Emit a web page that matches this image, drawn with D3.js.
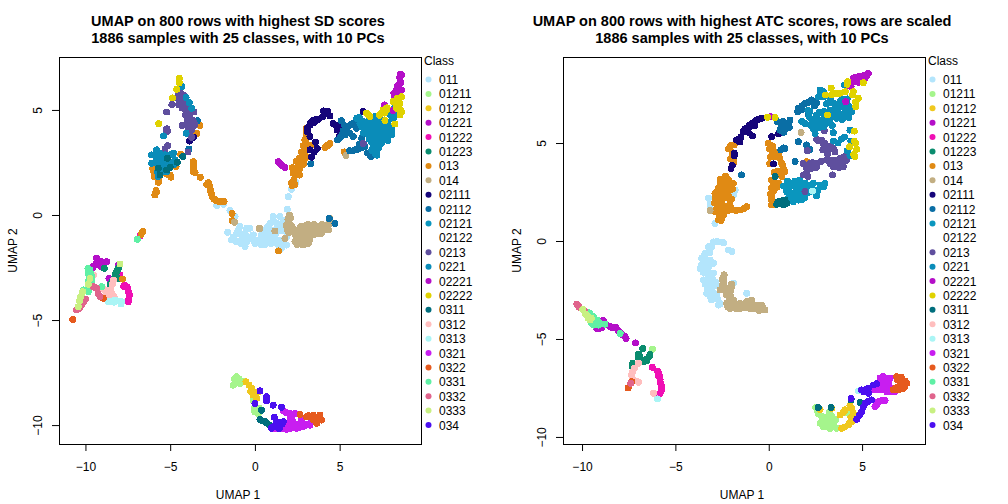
<!DOCTYPE html>
<html>
<head>
<meta charset="utf-8">
<script src="https://cdnjs.cloudflare.com/ajax/libs/d3/7.8.5/d3.min.js"></script>
<style>
  html, body { margin: 0; padding: 0; background: #fff; }
  text { font-family: "Liberation Sans", Arial, sans-serif; fill: #000; }
  .title { font-size: 14.5px; font-weight: bold; text-anchor: middle; }
  .axis-label, .legend-text, .axis text { font-size: 12px; }
  .axis path { display: none; }
  .axis line { stroke: #000; }
  .frame { fill: none; stroke: #000; }
  .dots circle { shape-rendering: crispEdges; }
</style>
</head>
<body>
<div id="chart"></div>
<script>
// Class names and colours, in legend order
var classNames = ['011', '01211', '01212', '01221', '01222', '01223', '013', '014', '02111', '02112', '02121', '02122',
  '0213', '0221', '02221', '02222', '0311', '0312', '0313', '0321', '0322', '0331', '0332', '0333', '034'];
var classColors = ['#B3E5FC', '#A5F58C', '#F0C81E', '#B40FC8', '#F00FB4', '#0A8C6E', '#E08A14', '#C2AE82', '#16057A', '#0A6EA5', '#0A96BE', '#FFFFFF',
  '#5F4F9E', '#0A8CB9', '#B40FC8', '#E0D200', '#006E7D', '#FFBEBE', '#AAF5F5', '#C81EF0', '#E65A1E', '#5FF0A5', '#E0648C', '#C8F082', '#4B0FF0'];

// Left panel: UMAP coordinates per class
var sd011 = [[-2.25,.45],[-1.86,.51],[-1.47,.21],[-1.17,-.08],[-1.6,-.82],[-.88,-.55],[-.48,-.63],[-1.37,-1.19],[-1.07,-1.27],[-.78,-1.19],[-.48,-1.27],[-.58,-1.51],[-.88,-.87],[-.58,-.87],[-1.07,-.87],[.1,-1.27],[.2,-1.19],
  [2.42,1.56],[2.16,1.22],[1.97,.87],[1.91,.27],[1.08,-.08],[1.47,-.08],[.89,-.4],[1.28,-.4],[1.67,-.24],[.59,-.71],[.98,-.71],[1.47,-.71],[.2,-1.19],[.69,-1.19],[1.28,-1.19],[1.87,-1.03],[1.87,-1.43],[1.57,-1.59],[-.1,-1.19],[-.3,-.63],[.4,-.95],[.85,-.95],[1.25,-.85],[1.65,-.75],[1.05,-1.05],[1.55,-1.2],
  [.75,-.55],[1.1,-.3],[.45,-.95],[.7,-.95],[.35,-1.4],[.6,-1.4],[.95,-1.35],[1.15,-1],[1.5,-.45],[1.3,-.6],[-.7,-1],[-1.25,-1.05],[-.95,-.7],[-.6,-1.4],[-.85,-1.35],[-1.2,-1.2],[1.6,-1.35],[1.35,-1.4],[-.3,-1.05],[0,-1.35],[-.1,-.95],[.5,-1.2]];
var sd01211 = [[-1.08,-7.86],[-1.28,-8.1],[-.885,-8.02],[-1.08,-7.7],[-.7,-7.9],[-.1,-8.81],[0,-9.37],[.2,-9.45],[-.05,-9.2],[.25,-9.2],[-1.2,-7.8],[-.95,-7.8],[-.9,-7.95],[-1.15,-8]];
var sd01212 = [[-.53,-7.94],[-.2,-8.25],[0,-8.49],[-.1,-8.57],[.2,-8.41],[.1,-8.73],[-.35,-8.1],[-.25,-8.4],[-.15,-8.45]];
var sd01221 = [[-9.04,-2.22],[-9.34,-2.3],[-9.53,-2.43],[-8.61,-3.02],[-8.06,-2.38],[-8.75,-2.22],[-9.34,-2.06],[-9.1,-2.45],[1.47,2.46],[1.77,2.27],[1.38,2.54],[1.6,2.36],[-9.2,-2.2],[-8.9,-2.25],[-9.4,-2.35],[-9.6,-2.55]];
var sd01222 = [[-7.57,-3.41],[-7.47,-3.65],[-7.43,-3.97],[-7.47,-4.13],[-7.96,-2.86],[-7.75,-3.4],[-6.78,-1],[-7.5,-3.5],[-7.4,-3.8],[-7.45,-4.05],[-7.65,-3.35]];
var sd01223 = [[-8.88,-2.54],[-8.06,-2.54],[-8.25,-2.86],[-8.06,-3.02],[-8.55,-3.33],[-8.35,-3.1],[-8.16,-2.7],[-8.2,-2.8],[-8.3,-3],[-8.45,-3.2],[-8.1,-2.6]];
var sd013 = [[-6.03,2.22],[-5.95,1.98],[-5.95,1.83],[-5.7,1.56],[-5,1.9],[-5.2,1.95],[-5.83,1.16],[-5.9,.95],[-4.38,2.89],[-3.93,3.06],[-4.65,2.3],[-3.63,2.54],[-3.63,2.3],[-3.63,2.06],[-3.53,2.03],[-3.22,1.79],[-2.75,1.54],[-2.65,1.35],[-2.6,1.11],[-2.53,.87],[-2.41,.75],[-2.06,.63],[-1.82,.65],[-1.35,.08],[-1.33,-.27],[-6.62,-.79],[-6.72,-.92],[-3.24,4.25],[-3.42,3.89],[-5.5,2.81],
  [3.05,4.13],[3.05,3.81],[2.95,3.57],[2.85,3.29],[3.2,3.33],[3.44,3.33],[2.75,2.78],[3.05,2.78],[2.66,2.54],[2.36,2.22],[2.66,2.22],[2.36,1.9],[2.62,1.9],[2.16,1.54],[4.13,3.22],[4.43,3.41],[5.27,3],[1.38,-1.71],[2.9,2.6],[2.5,2.05],[-7.8,-3.05],[-2.85,1.45],[2.9,3.05],[4.3,3.3],
  [3.05,3.95],[3.05,3.65],[3,3.4],[2.9,2.95],[2.75,2.55],[2.45,2.55],[2.85,2.4],[2.5,2.2],[2.45,1.95],[2.3,1.7],[2.35,1.45],[2.2,1.4],[4.25,3.3],[-3.6,2.4],[-3.6,2.2],[-2.7,1.45],[-2.62,1.2],[-2.55,1],[-2.3,.7],[-2.15,.65],[-5.85,1.05],[-6,2.1],[-5.95,1.9],[-5.1,1.92],[-5.8,1.08],[-5.7,1.7],[-4.95,1.8],[2.75,3],[2.6,2.7],[2.2,2.25],[2.25,2]];
var sd014 = [[-1.2,-.35],[.24,-.63],[2.03,0],[1.97,-.32],[.3,-.63],[1.18,-.76],[1.77,-1.11],[2.66,-.71],[3.05,-.55],[3.44,-.55],[3.84,-.55],[4.23,-.48],[2.66,-1.03],[3.05,-.95],[3.44,-.95],[3.93,-.87],[4.33,-.71],[2.75,-1.4],[3.15,-1.35],[2.36,-1.27],[4.43,-.16],[5.37,2.83],[1.93,-.71],[2.36,-.71],[2.8,-.75],[3.2,-.75],[3.65,-.7],[4.1,-.7],[2.85,-1.15],[3.25,-1.15],[2.55,-.95],[2.15,-.5],
  [2.4,-.95],[2.6,-1.2],[2.95,-.6],[3.25,-.6],[3.55,-.75],[3.85,-.75],[4.1,-.55],[2.95,-.95],[3.05,-1.15],[3.35,-.85],[3.75,-.9],[2.9,-1.4],[2.5,-1.4],[2.6,-.85],[1.95,-.2],[2.1,-.15],[1.85,-.5],[2,-.85],[3,-.5],[3.6,-.55],[4.35,-.45],[4.4,-.3],[3.15,-.45],[3.5,-.45],[2.7,-.55],[3.95,-.45],[2.95,-1.3]];
var sd02111 = [[-3.87,3.52],[-3.63,3.7],[4.19,4.84],[3.99,4.68],[4.43,4.71],[3.44,4.52],[3.64,4.56],[3.25,4.29],[3.25,3.73],[3.58,3.46],[3.68,3.17],[3.25,3.1],[3.34,2.75],[4.62,4.36],[4.92,4.21],[5.21,4.02],[4.98,3.76],[6.39,4.92],[3.75,4.55],[4.1,4.78],[3.5,4.4],[3.3,4.4],[5.05,4],[5.1,4.15],[4.78,4.28],[3.1,3.95],[3.1,4.15],[3.5,3],[4.3,4.95],[4.05,4.95],[4.85,4.05]];
var sd02112 = [[-3.4,4.49],[-3.8,4],[-3.9,3.14],[5.1,4.49],[4.86,3.57],[5.31,3.81],[5.51,4.21],[5.8,4.36],[6,4.13],[5.8,3.73],[5.6,3.06],[6,3.1],[6.3,3.65],[6.49,3.25],[6.83,2.78],[4.39,-.17],[3.3,2.43],[4.72,-.4],[5.2,4],[5.4,4],[5.65,4.3],[5.9,4.25],[5.75,3.05],[5.9,3.1],[6.1,3.15],[6.3,3.2],[5.6,3.9],[5.05,3.7],[6.4,3.4],[5.3,4.25],[5.15,3.85],[6.15,3.35],[6.65,2.95]];
var sd02121 = [];
var sd02122 = [];
var sd0213 = [[-4.5,5.7],[-4.2,5.7],[-4.5,5.5],[-4.2,5.5],[-4.5,5.25],[-4.2,5.25],[-4.1,5],[-3.9,5],[-4.1,4.75],[-3.85,4.75],[-3.7,4.9],[-3.6,4.9],[-4.9,5.25],[-5.2,4.9],[-3.95,4.5],[-3.65,4.5],[-4.1,4.3],[-3.85,4.3],[-3.55,4.3],[-3.75,4.05],[-5.2,4.1],[-5.2,3.95],[-3.75,3.7],[-5.3,3.15],[-5.15,3.3],[-3.95,3],[6.39,3.41],[6.88,3.62],
  [-4.35,5.6],[-4.35,5.35],[-4.3,5.1],[-4.05,5.2],[-4,4.9],[-4,4.6],[-3.95,4.15],[-3.7,4.15],[-3.7,4.4],[-3.85,3.9],[-4.3,4.25],[-4.4,5.8],[-5.15,4]];
var sd0221 = [[-6.09,2.86],[-5.8,3.1],[-5.6,2.94],[-5.3,2.86],[-5,2.86],[-4.81,2.94],[-6.09,2.46],[-5.8,2.62],[-5.4,2.62],[-5.1,2.54],[-4.71,2.62],[-5.7,2.22],[-5.4,2.3],[-5,2.3],[-4.81,2.38],[-5.6,1.98],[-5.2,2.06],[-5.7,1.83],[-5.4,3.76],[-4.06,3.89],[-4.32,6.11],[-3.73,5.08],[-3.87,5.35],[-4.06,5.6],
  [-5.2,2.7],[-5.5,2.75],[-5.9,2.85],[-5.9,2.5],[-5.55,2.45],[-5.25,2.4],[-5.75,2.05],[-5.5,2.05],[-5.35,2.15],[-4.85,2.5],[-5.1,2.25],[-5.3,2.55],
  [6,4.6],[6.2,4.36],[6.49,4.36],[6.59,4.05],[6.49,4.13],[6.88,4.21],[7.28,4.29],[7.57,4.29],[7.87,3.97],[8.06,3.97],[6.69,3.81],[7.08,3.81],[7.47,3.81],[7.77,3.65],[8.06,3.81],[6.88,3.49],[7.18,3.49],[7.47,3.41],[7.08,3.17],[7.08,2.94],[8.16,4.6],[8.26,4.76],[8.06,4.92],[7.08,4.68],[6.88,4.5],[7.1,4.1],[7.4,4.05],[7.7,4.05],[6.85,3.95],[8.25,5.1],
  [6.3,4.2],[6.75,4.2],[7,4],[7.3,3.95],[7.55,4.1],[7.8,4.2],[7.25,3.65],[7.5,3.6],[6.9,3.65],[7,3.3],[7.25,3.3],[7.2,3.05],[6.95,3.05],[7.65,3.85],[7.9,3.8],[6.6,3.9],[7.05,4.4],[7.3,4.15],[8.15,4.75],[8,4.75],
  [6.15,4.65],[6.35,4.45],[6.4,3.9],[7.6,3.75],[7.85,3.55],[6.7,4.45],[7,4.55],[7.3,4.5],[7.55,4.5],[7.85,4.4],[8.05,4.15],[7.3,3.2],[6.75,3.6],[6.9,3.1],[7.2,2.85]];
var sd02221 = [[8.65,6.67],[8.56,6.43],[8.46,6.19],[8.36,5.95],[8.65,5.95],[8.2,5.79],[8.16,4.97],[7.65,5.24],[8.6,6.3],[8.5,6.05],[8.55,6.55],[8.6,6.7],[8.5,6.2],[8.3,5.85],[8.5,5.85],[8.4,6.1],[8.25,5.65]];
var sd02222 = [[-4.46,6.51],[-4.46,6.3],[-4.62,5.98],[-4.85,5.57],[-5.68,4.35],[6.79,4.68],[6.59,4.84],[7.57,5],[7.47,4.84],[7.67,4.49],[8.36,5.08],[8.16,5.4],[8.65,5.63],[8.46,5.4],[8.65,4.92],[8.56,4.76],[8.26,4.33],[8.5,5.5],[8.35,5.25],[8.55,5.3],[7.65,4.85],[7.75,5],[6.7,4.75],[8.6,5],[8.4,5.55],[7.35,4.75],[7.8,5.1]];
var sd0311 = [[-5.17,2.7],[-4.58,2.51],[-5,2.27],[-5.2,2.14],[-5.6,1.9],[-5.7,2.22],[-4.26,2.78],[.3,-9.73],[.59,-9.84],[.85,-10],[.39,-9.29],[.45,-9.8],[.7,-9.9]];
var sd0312 = [[-9.53,-2.86],[-8.94,-3.54],[-8.35,-3.1],[-8.45,-3.73],[-8.31,-3.89],[-8.65,-3.97],[-8.7,-3.6],[-8.5,-3.55],[-8.4,-3.3],[-8.8,-3.85],[-8.35,-3.95]];
var sd0313 = [[-8.65,-4.13],[-8.25,-4.05],[-7.86,-4.13],[-7.9,-4.24],[-8.45,-4.1],[-8.05,-4.1],[-8.3,-4.15]];
var sd0321 = [[1.67,-9.32],[2.07,-9.44],[2.36,-9.44],[2.07,-9.68],[1.97,-10],[1.67,-10.16],[2.07,-10.16],[2.46,-10.16],[2.85,-9.92],[3.25,-10],[1.18,-10.16],[2.75,-9.76],[2.5,-9.95],[1.4,-10.1],[1.85,-9.4],[2.1,-9.55],[2.2,-9.75],[2.05,-9.9],[2.25,-10.1],[1.85,-10.2],[2.65,-10.1],[2.9,-10.05],[3.1,-9.95],[2.7,-9.9],[2.3,-9.95],[3.3,-9.85]];
var sd0322 = [[-10.75,-4.98],[-8.94,-3.97],[2.66,-9.49],[3.05,-9.6],[3.44,-9.52],[3.84,-9.52],[3.93,-9.76],[3.64,-9.92],[3.25,-9.6],[3.64,-9.7],[3.45,-9.75],[3.8,-9.7],[3.7,-9.8],[3.15,-9.55],[3.5,-9.65],[3.6,-9.85]];
var sd0331 = [[-9.73,-2.62],[-9.83,-2.78],[-9.63,-2.94],[-9.83,-3.17],[-9.63,-3.17],[-9.83,-3.65],[-10.12,-3.57],[-9.04,-3.41],[-6.94,-1.16],[-9.7,-2.75],[-9.75,-3.05],[-9.7,-3.3],[-9.95,-3.6],[-9.85,-2.55]];
var sd0332 = [[-9.57,-3.41],[-9.34,-3.49],[-10.12,-4.13],[-10.22,-4.29],[-10.52,-4.52],[-9.14,-3.89],[-10.2,-4.2],[-10.35,-4.45],[-9.45,-3.45],[-9.25,-3.75],[-10,-4]];
var sd0333 = [[-9.73,-3.02],[-9.83,-3.3],[-10.16,-3.65],[-10.28,-3.89],[-10.42,-4.37],[-7.96,-2.33],[-10.2,-3.75],[-10.35,-4.1]];
var sd034 = [[.69,-8.65],[.69,-8.84],[0,-8.97],[1.08,-9.05],[1.57,-9.16],[1.14,-9.63],[1.28,-9.89],[1.67,-9.84],[.98,-10.16],[1.44,-10.16],[.3,-8.37],[.7,-8.75],[1.3,-9.85],[1.45,-9.95],[1.15,-10.05],[1.6,-9.95],[1.05,-10.1]];

// Right panel
var atc011 = [[-3.23,2.18],[-3.14,1.84],[-2.88,.9],[-1.8,2.6],[-1.9,2.35],[-2.79,-.03],[-2.43,-.09],[-2.16,-.46],[-1.98,-.54],[-3.23,-.29],[-3.41,-.63],[-3.59,-.88],[-3.68,-1.4],[-3.5,-1.14],[-3.14,-.97],[-3.32,-1.65],[-2.96,-1.65],[-3.5,-1.99],[-3.14,-2.16],[-3.32,-2.67],[-3.05,-3.01],[-2.7,-3.27],[-2.96,-1.14],[-1.89,-2.16],[-1.18,-2.67],[-3.4,-2.2],[-3.1,-2.5],[-2.8,-2.75],[-3,-1.95],[-3.2,-1.3],[-2.85,-2.1],[-2.75,-2.95],
  [-3.35,-1],[-3.15,-.6],[-3.05,-.3],[-3.6,-1.2],[-3.5,-1.6],[-3.25,-1.9],[-3.3,-2.4],[-3.05,-2.35],[-3.15,-2.8],[-2.9,-2.95],[-3.6,-1.4],[-3.45,-.75],[-2.95,-.05],[-2.65,-.05],[-3,-2.6],[-2.6,-3.2],[-3.2,-1.6],[-3.4,-1.35],[-2.75,-2.3]];
var atc01211 = [[2.52,-8.5],[2.66,-8.83],[3.25,-8.71],[4.18,-8.76],[2.75,-9.3],[3.1,-9.22],[3.46,-9.13],[2.93,-9.47],[3.28,-9.56],[3.64,-9.56],[3.37,-8.96],[3,-9],[-6.23,-5.53],[2.85,-8.95],[2.6,-8.65],[3.25,-9.3],[3.45,-9.35],[2.9,-9.15],[3.6,-9.1],[3.1,-9.45],[3.4,-9.5],[3.25,-9]];
var atc01212 = [[4.35,-8.42],[4.09,-8.62],[3.82,-8.88],[4.53,-8.79],[4.44,-9.22],[4.26,-9.39],[3.91,-9.56],[3.37,-8.54],[2.75,-8.59],[4,-8.75],[4.45,-8.55],[4.4,-9],[4.3,-9.3],[4.05,-9.5]];
var atc01221 = [[-9.21,-4.46],[-8.94,-4.41],[-8.86,-4.06],[-8.53,-4.34],[-8.36,-4.41],[-8.05,-4.58],[-7.82,-4.8],[-7.64,-4.97],[-7.14,-5.2],[-8.7,-4.28],[-8.2,-4.4],[-7.95,-4.7],[-7.7,-4.88],[-9.05,-4.45],[-8.45,-4.4]];
var atc01222 = [[-6.23,-6.45],[-5.91,-6.75],[-5.82,-7.09],[-5.73,-7.4],[-5.82,-7.77],[-6,-7.86],[-5.85,-6.9],[-5.75,-7.6],[-5.9,-6.9],[-5.8,-7.25],[-5.75,-7.5],[-5.95,-6.65]];
var atc01223 = [[-6.75,-5.49],[-6.98,-5.77],[-6.98,-5.99],[-6.36,-5.78],[-6.53,-6.11],[-6.68,-6.14],[-7.28,-6.24],[-7.28,-6.45],[-6.9,-5.9],[-6.6,-6.05],[-6.4,-5.9],[-7.28,-6.35]];
var atc013 = [[-1.98,4.9],[-1.9,4.13],[-2.34,3.28],[-2.61,2.86],[-2.25,2.86],[-1.9,2.94],[-2.88,2.43],[-2.52,2.52],[-2.16,2.52],[-2.88,2.09],[-2.52,2.01],[-2.07,2.01],[-2.79,1.67],[-2.43,1.58],[-1.98,1.58],[-1.54,1.58],[-1.18,1.75],[-2.7,1.07],[-2.43,1.33],[-.02,4.98],[.16,4.64],[.52,4.51],[.69,3.96],[.87,3.54],[.43,3.54],[.25,2.86],[.52,2.94],[.16,2.26],[.16,1.84],[2.03,4.05],[-2.7,2.7],[-2.4,3],[-2.15,3.1],[-2.35,2.2],[-1.85,4.9],[-2.65,1.9],[.25,2.55],
  [-2.5,2.8],[-2.3,2.65],[-2.05,2.8],[-1.95,2.65],[-2.6,2.25],[-2.75,1.85],[-2.6,1.65],[-2.65,1.35],[-2.5,1.2],[-2.25,1.55],[-2.3,1.75],[-2.15,2.3],[-2.75,2.55],[-2.05,1.72],[-1.75,1.55],[-1.35,1.65],[-2.5,1.9],[-1.95,4.5],[-1.9,3.95],[-2.05,4.85],[-2.2,3.15],
  [.2,4.85],[.05,4.7],[.35,4.55],[.6,4.2],[.75,3.85],[.8,3.65],[.6,3.55],[.3,3.5],[.25,3.05],[.35,2.75],[.15,2.7],[.45,2.75],[.15,2.1],[.3,1.85],
  [-2.85,2.25],[-2.9,1.95],[-2.35,2.5],[-2,2.15],[-2.2,1.55],[-2.85,1.5],[-2.55,1.05],[.1,4.3],[.35,4.3],[.05,3.95],[.7,3.3],[.15,3.1],[.1,2.4],[-2.6,3.15],[-2.05,4.2],[-2.15,4.7],[-2.3,3.3]];
var atc014 = [[1.73,5.54],[-3.14,1.55],[-2.39,-1.73],[-2.43,-2.16],[-2.61,-2.5],[-1.98,-2.33],[-2.25,-2.76],[-1.89,-3.01],[-2.25,-3.18],[-1.54,-3.18],[-1.18,-3.1],[-.91,-3.01],[-2.07,-3.44],[-1.54,-3.44],[-1,-3.44],[-.55,-3.44],[-.38,-3.27],[-.2,-3.52],[-1.3,-3.3],[-1.8,-3.2],[-2.1,-2.95],[-.75,-3.3],[-2.3,-2.4],[-.95,-3.25],[-2.5,-1.95],
  [-2.45,-1.85],[-2.4,-2],[-2.5,-2.3],[-2.3,-2.6],[-2.05,-2.55],[-2.05,-2.8],[-1.9,-3.2],[-1.6,-3.3],[-1.25,-3.4],[-1.05,-3.15],[-.8,-3.45],[-.6,-3.3],[-.3,-3.4],[-.5,-3.55],[-1.75,-3.45],[-2.2,-3.35],[-2,-2.2]];
var atc02111 = [[-1.18,5.75],[-.91,6],[-.65,6.17],[-.38,6.26],[-1.36,5.58],[-1.72,5.15],[-1.84,4.47],[-2.02,3.71],[-.88,5.36],[.25,3.93],[.16,5.32],[.52,5.46],[-1.05,5.9],[-1.5,5.3],[-.8,6.05],[-1,5.85],[-.75,6.1],[-1.28,5.7],[-.55,6.2],[-1.62,5.2],[-1.85,4.35],[-1.3,5.6],[-1.1,5.55],[-.75,5.9],[-1.55,5.05],[-1.95,3.85]];
var atc02112 = [[.46,6.09],[.69,5.92],[.96,5.92],[.6,5.66],[1.14,6.17],[.87,4.73],[1.41,4.05],[1.59,5.07],[2.03,4.9],[2.21,4.68],[2.12,6.43],[1.59,6.77],[1.94,7.03],[2.21,7.11],[-1.45,3.37],[.85,5.7],[.75,6.1],[.95,5.75],[.7,5.75],[1.05,6],[1.75,6.7],[2.05,7.05],[.8,4.75],[.65,4.65],[1.55,6.6],[1.1,5.8],[.8,5.55],[1.8,6.9],[2.45,6.9],[2.55,7.05],[2.3,7.2]];
var atc02121 = [[.96,2.77],[1.32,2.86],[1.68,2.94],[2.03,2.77],[2.39,2.94],[.96,2.52],[1.32,2.43],[1.68,2.35],[2.03,2.43],[1.32,2.01],[1.59,2.09],[1.94,2.23],[2.57,2.3],[2.93,2.77],[3.01,2.94],[1.5,2.6],[1.85,2.6],[1.6,2.2],[1.1,2.75],[1.5,2.85],[1.85,2.85],[.8,2.8],[1.1,2.5],[1.5,2.4],[1.8,2.4],[1.4,2.15],[1.75,2.1],[1.85,2.35],[1.25,2.25],[1.05,2.2],
  [1.15,2.95],[1.95,2.95],[2.3,2.85],[2.2,2.5],[2.45,2.6],[2.75,2.85],[2.6,2.55],[1,3.05],[1.4,3.05],[1.65,3.1]];
var atc02122 = [];
var atc0213 = [[2.84,5.15],[3.01,4.98],[3.1,4.68],[3.46,4.73],[2.57,5.19],[2.07,4.61],[1.85,3.96],[2.21,3.96],[2.57,3.96],[2.03,3.71],[3.1,4.13],[3.46,4.13],[3.82,4.22],[4.17,4.39],[3.46,3.79],[3.99,3.79],[1.85,3.37],[2.98,5.63],[1.94,2.52],[3.42,3.37],[3,4.8],[2.8,4.05],[3.2,4.15],[3.65,4.1],[3.9,4.05],[4.05,4.3],[3.3,3.95],[3.55,3.85],[3.75,3.95],[2.35,4],[2,3.85],[2.05,3.55],[2.9,4.65],[2.7,5.1],[2.9,5],[3.25,4.7],[3.3,4.85],[3.15,4.45],[3.55,4.55],[2.25,3.7],[2.55,3.75],[4,4.05],[4.15,4.1],[3.75,3.75],[2.1,3.3]];
var atc0221 = [[2.48,6],[2.84,6.17],[3.28,6.17],[3.64,6.26],[2.57,6.43],[3.28,6.68],[3.64,6.68],[4.1,6.68],[4.44,6.6],[3.46,7.03],[3.82,7.11],[4.17,7.03],[2.93,7.62],[2.66,7.36],[4.35,5.66],[3.46,5.53],[3.46,5.1],[4.05,7.96],[2.48,5.49],[1.77,6.09],[3,6.4],[3.05,6],[4.3,6.85],[3.55,6.85],[2.7,5.8],[2.1,6.65],
  [2.6,6.2],[2.75,6],[3.05,6.2],[3.4,6.4],[3.25,6.3],[2.95,5.85],[3.75,6.5],[3.9,6.85],[4.05,6.45],[4.25,6.55],[3.7,7],[3.95,7.25],[4.2,7.25],[2.85,7.55],[2.75,7.7],[2.2,6.6],[2.15,6.35],[3.4,5.9],
  [2.25,5.9],[2.7,6.55],[2.95,6.6],[3.1,7],[3.3,7.2],[3.15,6.15],[3.95,6.2],[4.3,6.3],[2.3,6.2],[1.95,6],[2.4,5.7],[2.95,7.35],[4.05,5.3],[3.7,5],[4.2,4.6],[4.35,4.35],[4.4,5.1],[3.9,5.2]];
var atc02221 = [[5.16,8.47],[4.8,8.38],[4.53,8.3],[5.33,8.55],[4.98,8.21],[4.41,7.87],[4.12,7.11],[.09,6.34],[4.8,8.1],[4.65,8.35],[4.95,8.4],[5.15,8.3],[4.75,8.22],[5,8.35],[4.35,7.9],[5.25,8.45],[4.55,8.15]];
var atc02222 = [[4.23,8.13],[5.07,8.08],[3.73,7.53],[3.37,7.45],[4.1,7.62],[4.53,7.62],[4.8,7.28],[4.66,6.85],[3.14,6.43],[4.58,5.61],[4.58,5.1],[4.32,4.81],[4.71,4.68],[4.62,4.3],[-.07,6.31],[.34,6.31],[3.34,7.81],[3.05,7.45],[3.6,7.55],[3.45,7.5],[3.85,7.55],[4.5,7.45],[4.65,7.1],[4.65,5],[4.55,4.4],[4.2,8]];
var atc0311 = [[.6,2.01],[.87,2.09],[.43,1.87],[.96,1.92],[.34,3.28],[2.66,-8.5],[3.34,-8.5],[4.41,-8.11],[4.89,-8.23],[.75,2.05],[.6,1.9],[.8,1.85],[.5,2]];
var atc0312 = [[-6.98,-6.24],[-7.3,-6.67],[-7.3,-7.04],[-6.98,-7.21],[-6.18,-7.77],[-7.35,-6.85],[-7.2,-6.5],[-7.1,-7.15]];
var atc0313 = [[2.34,2.55],[-5.96,-8.06],[4.8,-7.65]];
var atc0321 = [[5.6,-7.6],[5.78,-7.52],[6.14,-6.92],[5.96,-7],[6.41,-7.26],[6.23,-7.52],[6.32,-7.69],[6.76,-7.69],[5.87,-8.2],[6.23,-8.14],[5.69,-8.45],[6.1,-7.2],[5.85,-7.6],[6,-7.35],[6.3,-7.1],[6.5,-7.5],[6.05,-8.15],[5.8,-8.35],[5.95,-7.55],[6.15,-7.6],[6.55,-7.7],[6.25,-7],[6.5,-7]];
var atc0322 = [[-7.53,-7.5],[-7.34,-7.18],[6.85,-6.92],[7.12,-7.12],[7.39,-7.26],[7.21,-7.52],[6.94,-7.6],[6.67,-7.6],[7,-7.4],[7.3,-7.15],[7.1,-6.95],[6.8,-7.5],[7.3,-7.4],[6.9,-7.1]];
var atc0331 = [[-9.57,-3.69],[-9.21,-4.03],[-9.39,-4.29],[-9.12,-4.29],[-8.77,-4.24],[-7.96,-4.71],[-9.4,-3.85],[-9.25,-4.15],[-9.5,-4.2],[-9.6,-3.8],[-9.1,-4.15],[-9.7,-3.65]];
var atc0332 = [[-10.28,-3.22],[-10.14,-3.39],[-9.84,-3.61],[-7.39,-7.26],[-10.2,-3.3]];
var atc0333 = [[-9.96,-3.49],[-9.57,-4.03],[-9.66,-3.95],[-9.7,-3.85],[-9.8,-3.75],[-9.5,-3.95]];
var atc034 = [[4.98,-8.71],[5.16,-8.28],[5.51,-8.11],[4.98,-7.6],[5.34,-7.52],[5.34,-7.77],[5.78,-7.29],[4.71,-9.1],[4.41,-8.03],[5.05,-8.5],[5.3,-8.2],[4.85,-8.9],[5.1,-7.7],[5.6,-7.35],[5.25,-7.55]];

var sdPoints = [sd011, sd01211, sd01212, sd01221, sd01222, sd01223, sd013, sd014, sd02111, sd02112, sd02121, sd02122,
  sd0213, sd0221, sd02221, sd02222, sd0311, sd0312, sd0313, sd0321, sd0322, sd0331, sd0332, sd0333, sd034];
var atcPoints = [atc011, atc01211, atc01212, atc01221, atc01222, atc01223, atc013, atc014, atc02111, atc02112, atc02121, atc02122,
  atc0213, atc0221, atc02221, atc02222, atc0311, atc0312, atc0313, atc0321, atc0322, atc0331, atc0332, atc0333, atc034];

// Panel settings
var xTicks = [-10, -5, 0, 5];
var yTicks = [-10, -5, 0, 5];

var w = 1008;
var h = 504;
var panelTop = 57;
var panelBottom = 444;
var panelWidth = 362;
var pointRadius = 3.5;

var svg = d3.select('#chart')
  .append('svg')
  .attr('width', w)
  .attr('height', h)
  .style('display', 'block');

var drawPanel = function (opts) {
  var left = opts.left;
  var right = left + panelWidth;
  var centre = left + 180;

  var xScale = d3.scaleLinear().domain(opts.xDomain).range([left, right]);
  var yScale = d3.scaleLinear().domain(opts.yDomain).range([panelBottom, panelTop]);

  // Points, one group per class, in legend order
  var dots = svg.append('g').attr('class', 'dots');
  opts.points.forEach(function (pts, i) {
    dots.append('g')
      .attr('fill', classColors[i])
      .selectAll('circle')
      .data(pts)
      .enter()
      .append('circle')
      .attr('cx', d => xScale(d[0]))
      .attr('cy', d => yScale(d[1]))
      .attr('r', pointRadius);
  });

  svg.append('rect')
    .attr('class', 'frame')
    .attr('x', left + 0.5)
    .attr('y', panelTop + 0.5)
    .attr('width', panelWidth)
    .attr('height', panelBottom - panelTop);

  // Axes
  svg.append('g')
    .attr('class', 'axis')
    .attr('transform', `translate(0, ${panelBottom})`)
    .call(d3.axisBottom(xScale).tickValues(xTicks).tickSize(7).tickPadding(11).tickFormat(d3.format('d')));

  var yAxisGroup = svg.append('g')
    .attr('class', 'axis')
    .attr('transform', `translate(${left}, 0)`)
    .call(d3.axisLeft(yScale).tickValues(yTicks).tickSize(7).tickFormat(d3.format('d')));

  // R draws the y tick labels rotated
  yAxisGroup.selectAll('text')
    .attr('x', null)
    .attr('dy', null)
    .attr('y', 0)
    .attr('text-anchor', 'middle')
    .attr('transform', 'translate(-17, 0) rotate(-90)');

  // Titles and axis labels
  svg.append('text').attr('class', 'title').attr('x', centre - 1).attr('y', 26).text(opts.title);
  svg.append('text').attr('class', 'title').attr('x', centre - 1).attr('y', 43).text('1886 samples with 25 classes, with 10 PCs');

  svg.append('text')
    .attr('class', 'axis-label')
    .attr('x', centre - 1)
    .attr('y', 499)
    .attr('text-anchor', 'middle')
    .text('UMAP 1');

  svg.append('text')
    .attr('class', 'axis-label')
    .attr('transform', `translate(${left - 42}, ${(panelTop + panelBottom) / 2}) rotate(-90)`)
    .attr('text-anchor', 'middle')
    .text('UMAP 2');

  // Legend
  var legendY = d3.scaleLinear().domain([0, classNames.length - 1]).range([79.5, 425]);
  var legend = svg.append('g').attr('transform', `translate(${right + 3}, 0)`);

  legend.append('text')
    .attr('class', 'legend-text')
    .attr('x', 0)
    .attr('y', 65)
    .text('Class');

  legend.selectAll('circle')
    .data(classNames)
    .enter()
    .append('circle')
    .attr('cx', 4.5)
    .attr('cy', (d, i) => legendY(i))
    .attr('r', 3)
    .attr('fill', (d, i) => classColors[i]);

  legend.selectAll('text.item')
    .data(classNames)
    .enter()
    .append('text')
    .attr('class', 'legend-text item')
    .attr('x', 15)
    .attr('y', (d, i) => legendY(i) + 4.5)
    .text(d => d);
};

drawPanel({
  left: 59,
  xDomain: [-11.56, 9.8],
  yDomain: [-10.9, 7.52],
  points: sdPoints,
  title: 'UMAP on 800 rows with highest SD scores'
});

drawPanel({
  left: 563,
  xDomain: [-11.02, 8.37],
  yDomain: [-10.36, 9.39],
  points: atcPoints,
  title: 'UMAP on 800 rows with highest ATC scores, rows are scaled'
});
</script>
</body>
</html>
